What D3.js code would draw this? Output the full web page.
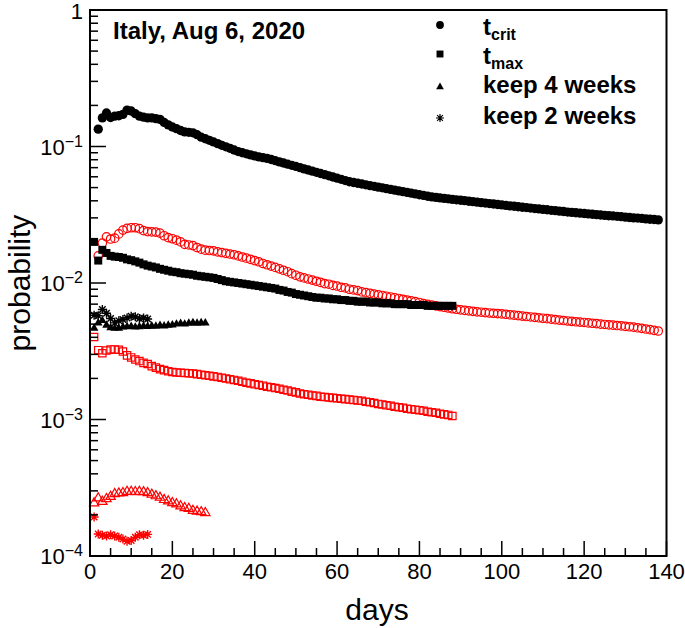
<!DOCTYPE html>
<html><head><meta charset="utf-8">
<script src="https://cdn.jsdelivr.net/npm/d3@7"></script>
<style>body{margin:0;background:#fff}svg{display:block}text{font-family:"Liberation Sans",Arial,Helvetica,sans-serif}</style>
</head><body>
<script>
// ---- data ----
const title = "Italy, Aug 6, 2020";
const xTicks = [0, 20, 40, 60, 80, 100, 120, 140];
const yTickExps = [0, -1, -2, -3, -4];

// black filled circles: t_crit, days 2..138
const tCritStart = 2;
const tCrit = [0.134,0.162,0.176,0.163,0.167,0.168,0.172,0.185,0.182,0.174,
 0.167,0.164,0.162,0.162,0.160,0.158,0.150,0.144,0.139,0.135,
 0.131,0.128,0.127,0.126,0.122,0.117,0.114,0.111,0.108,0.105,
 0.102,0.0995,0.0970,0.0943,0.0918,0.0900,0.0884,0.0868,0.0853,0.0840,
 0.0829,0.0819,0.0803,0.0787,0.0772,0.0757,0.0742,0.0728,0.0714,0.0700,
 0.0686,0.0673,0.0660,0.0647,0.0634,0.0622,0.0610,0.0598,0.0586,0.0575,
 0.0563,0.0552,0.0545,0.0538,0.0531,0.0524,0.0517,0.0511,0.0504,0.0498,
 0.0491,0.0485,0.0479,0.0473,0.0467,0.0461,0.0455,0.0449,0.0443,0.0438,
 0.0432,0.0427,0.0424,0.0420,0.0417,0.0414,0.0410,0.0407,0.0404,0.0401,
 0.0397,0.0394,0.0391,0.0388,0.0385,0.0382,0.0379,0.0376,0.0373,0.0370,
 0.0367,0.0365,0.0362,0.0359,0.0357,0.0354,0.0351,0.0349,0.0346,0.0344,
 0.0341,0.0339,0.0336,0.0334,0.0331,0.0329,0.0327,0.0325,0.0323,0.0321,
 0.0319,0.0317,0.0315,0.0313,0.0311,0.0310,0.0308,0.0306,0.0304,0.0302,
 0.0300,0.0299,0.0297,0.0295,0.0293,0.0292,0.0290];

// red open circles, days 2..138
const redCircStart = 2;
const redCirc = [0.0158,0.0196,0.0218,0.0210,0.0213,0.0229,0.0244,0.0251,0.0254,0.0254,
 0.0250,0.0242,0.0238,0.0237,0.0236,0.0232,0.0222,0.0215,0.0211,0.0206,
 0.0200,0.0192,0.0190,0.0188,0.0182,0.0177,0.0174,0.0173,0.0172,0.0169,
 0.0167,0.0165,0.0163,0.0161,0.0158,0.0155,0.0152,0.0149,0.0146,0.0143,
 0.0139,0.0136,0.0133,0.0130,0.0127,0.0124,0.0121,0.0117,0.0114,0.0111,
 0.0109,0.0107,0.0105,0.0103,0.0101,0.0099,0.0098,0.0096,0.0095,0.0093,
 0.0092,0.0090,0.0089,0.0088,0.0086,0.0085,0.0084,0.0083,0.0082,0.0081,
 0.0080,0.0079,0.0078,0.0077,0.0076,0.0075,0.0074,0.0073,0.0072,0.00707,
 0.00698,0.00690,0.00680,0.00672,0.00664,0.00656,0.00648,0.00642,0.00636,0.00630,
 0.00625,0.00620,0.00615,0.00611,0.00607,0.00603,0.00600,0.00597,0.00594,0.00590,
 0.00585,0.00581,0.00577,0.00572,0.00568,0.00564,0.00560,0.00556,0.00552,0.00548,
 0.00544,0.00539,0.00535,0.00531,0.00527,0.00524,0.00520,0.00517,0.00514,0.00510,
 0.00507,0.00504,0.00500,0.00497,0.00494,0.00491,0.00488,0.00485,0.00481,0.00478,
 0.00475,0.00470,0.00465,0.00460,0.00455,0.00450,0.00445];

// black filled squares: t_max, days 1..88
const tMaxStart = 1;
const tMax = [0.0200,0.0146,0.0175,0.0166,0.0158,0.0156,0.0155,0.0153,0.0149,0.0147,
 0.0144,0.0141,0.0137,0.0134,0.0132,0.0130,0.0127,0.0125,0.0123,0.0121,
 0.0120,0.0118,0.0117,0.0116,0.0115,0.0113,0.0112,0.0111,0.0110,0.0109,
 0.0107,0.0105,0.0103,0.0102,0.0101,0.0100,0.0099,0.0098,0.0097,0.0096,
 0.0095,0.0094,0.0093,0.0092,0.0091,0.0089,0.0088,0.0086,0.0085,0.0083,
 0.0082,0.0081,0.0080,0.0079,0.0078,0.0078,0.0077,0.0077,0.0076,0.0076,
 0.0075,0.0075,0.0074,0.0074,0.0073,0.0073,0.0073,0.0072,0.0072,0.0072,
 0.0071,0.0071,0.0071,0.0070,0.0070,0.0070,0.0070,0.0069,0.0069,0.0069,
 0.0069,0.0068,0.0068,0.0068,0.0068,0.0068,0.0068,0.0068];

// red open squares, days 1..88
const redSqStart = 1;
const redSq = [0.00402,0.00322,0.00306,0.00320,0.00326,0.00326,0.00324,0.00315,0.00295,0.00285,
 0.00275,0.00268,0.00260,0.00255,0.00246,0.00240,0.00234,0.00230,0.00226,0.00223,
 0.00221,0.00220,0.00219,0.00218,0.00217,0.00215,0.00213,0.00211,0.00209,0.00207,
 0.00205,0.00202,0.00200,0.00197,0.00195,0.00192,0.00189,0.00186,0.00184,0.00181,
 0.00179,0.00177,0.00174,0.00172,0.00170,0.00168,0.00165,0.00163,0.00160,0.00158,
 0.00155,0.00153,0.00152,0.00150,0.00149,0.00147,0.00146,0.00145,0.00144,0.00143,
 0.00142,0.00141,0.00140,0.00139,0.00138,0.00137,0.00135,0.00134,0.00132,0.00130,
 0.00129,0.00127,0.00126,0.00124,0.00123,0.00122,0.00120,0.00119,0.00118,0.00117,
 0.00116,0.00114,0.00113,0.00112,0.00110,0.00109,0.00108,0.00106];

// black filled triangles: keep 4 weeks, days 1..28
const keep4Start = 1;
const keep4 = [0.00466,0.00510,0.00530,0.00490,0.00470,0.00465,0.00465,0.00475,0.00478,0.00480,
 0.00475,0.00478,0.00482,0.00480,0.00485,0.00482,0.00488,0.00485,0.00490,0.00492,
 0.00500,0.00505,0.00500,0.00508,0.00512,0.00508,0.00512,0.00510];

// red open triangles, days 1..28
const redTriStart = 1;
const redTri = [0.000244,0.000265,0.000250,0.000262,0.000272,0.000285,0.000288,0.000290,0.000296,0.000296,
 0.000295,0.000296,0.000294,0.000290,0.000282,0.000275,0.000268,0.000258,0.000252,0.000245,
 0.000240,0.000232,0.000225,0.000222,0.000215,0.000212,0.000210,0.000207];

// black stars: keep 2 weeks, days 1..14
const keep2Start = 1;
const keep2 = [0.00580,0.00575,0.00640,0.00600,0.00550,0.00510,0.00530,0.00540,0.00555,0.00570,
 0.00565,0.00550,0.00555,0.00545];

// red stars, days 1..14
const redStarStart = 1;
const redStar = [0.000193,0.000145,0.000142,0.000140,0.000143,0.000140,0.000137,0.000133,0.000128,0.000130,
 0.000137,0.000143,0.000142,0.000144];

const legendItems = [
  {main: "t", sub: "crit", shape: "circle"},
  {main: "t", sub: "max", shape: "square"},
  {main: "keep 4 weeks", sub: null, shape: "triangle"},
  {main: "keep 2 weeks", sub: null, shape: "star"}
];

// ---- chart ----
const W = 685, H = 628;
const svg = d3.select("body").append("svg").attr("width", W).attr("height", H);
const x = d3.scaleLinear().domain([0, 140]).range([90, 666.5]);
const y = d3.scaleLog().domain([1e-4, 1]).range([556, 10]);

const starPath = r => `M0,${-r}V${r}M${-r},0H${r}M${-r*0.72},${-r*0.72}L${r*0.72},${r*0.72}M${-r*0.72},${r*0.72}L${r*0.72},${-r*0.72}`;
function shapePath(shape, filled) {
  if (shape === "circle") return d3.symbol(d3.symbolCircle, filled ? 68 : 56)();
  if (shape === "square") return d3.symbol(d3.symbolSquare, filled ? 64 : 54)();
  if (shape === "triangle") return d3.symbol(d3.symbolTriangle, filled ? 32 : 38)();
  return starPath(4.5);
}
function drawSeries(vals, start, shape, filled, color) {
  const g = svg.append("g");
  g.selectAll("path").data(vals).join("path")
    .attr("transform", (d, i) => `translate(${x(start + i)},${y(d)})`)
    .attr("d", shapePath(shape, filled))
    .attr("fill", (filled && shape !== "star") ? color : "none")
    .attr("stroke", color)
    .attr("stroke-width", shape === "star" ? 1.4 : (filled ? 0 : 1.2));
}

// red (open) series first, black on top
drawSeries(redCirc, redCircStart, "circle", false, "#ff0000");
drawSeries(redSq, redSqStart, "square", false, "#ff0000");
drawSeries(redTri, redTriStart, "triangle", false, "#ff0000");
drawSeries(redStar, redStarStart, "star", false, "#ff0000");
drawSeries(tCrit, tCritStart, "circle", true, "#000");
drawSeries(tMax, tMaxStart, "square", true, "#000");
drawSeries(keep4, keep4Start, "triangle", true, "#000");
drawSeries(keep2, keep2Start, "star", true, "#000");

// frame
const x0 = x(0), x1 = x(140), yT = y(1), yB = y(1e-4);
svg.append("rect").attr("x", x0).attr("y", yT).attr("width", x1 - x0).attr("height", yB - yT)
  .attr("fill", "none").attr("stroke", "#000").attr("stroke-width", 2);

// x ticks (inward, upward)
const xMinor = d3.range(0, 141, 5);
svg.append("g").selectAll("line").data(xMinor).join("line")
  .attr("x1", d => x(d)).attr("x2", d => x(d))
  .attr("y1", yB).attr("y2", d => yB - (d % 20 === 0 ? 15 : 8))
  .attr("stroke", "#000").attr("stroke-width", 1.5);
svg.append("g").selectAll("text").data(xTicks).join("text")
  .attr("x", d => x(d)).attr("y", 579).attr("text-anchor", "middle")
  .attr("font-size", 22).text(d => d);

// y ticks
const yMinorVals = [];
for (let e = -4; e < 0; e++) for (let m = 1; m <= 9; m++) yMinorVals.push(m * Math.pow(10, e));
yMinorVals.push(1);
svg.append("g").selectAll("line").data(yMinorVals).join("line")
  .attr("x1", x0).attr("x2", (d, i) => x0 + ((i % 9 === 0) ? 16 : 8))
  .attr("y1", d => y(d)).attr("y2", d => y(d))
  .attr("stroke", "#000").attr("stroke-width", 1.5);
const yl = svg.append("g").selectAll("text").data(yTickExps).join("text")
  .attr("x", 83).attr("y", e => y(Math.pow(10, e)) + (e === 0 ? 9 : 8))
  .attr("text-anchor", "end").attr("font-size", 22);
yl.each(function(e) {
  const t = d3.select(this);
  if (e === 0) { t.text("1"); return; }
  t.append("tspan").text("10");
  t.append("tspan").attr("dy", -8).attr("font-size", 16).text("\u2212" + (-e));
});

// axis titles
svg.append("text").attr("x", 377).attr("y", 620).attr("text-anchor", "middle")
  .attr("font-size", 30).text("days");
svg.append("text").attr("transform", `translate(30,${(yT + yB) / 2}) rotate(-90)`)
  .attr("text-anchor", "middle").attr("font-size", 30).text("probability");

// title
svg.append("text").attr("x", 113).attr("y", 39).attr("font-size", 24)
  .attr("font-weight", "bold").text(title);

// legend
const legY = [25, 54, 87, 118];
const lg = svg.append("g");
legendItems.forEach((it, i) => {
  const cy = legY[i];
  lg.append("path").attr("transform", `translate(440,${cy})`)
    .attr("d", it.shape === "star" ? starPath(4) : d3.symbol(
      it.shape === "circle" ? d3.symbolCircle : it.shape === "square" ? d3.symbolSquare : d3.symbolTriangle,
      it.shape === "triangle" ? 26 : 48)())
    .attr("fill", it.shape === "star" ? "none" : "#000")
    .attr("stroke", "#000").attr("stroke-width", it.shape === "star" ? 1.2 : 0);
  const t = lg.append("text").attr("x", 483).attr("y", it.sub ? cy + 10 : cy + 6)
    .attr("font-size", 24).attr("font-weight", "bold");
  t.append("tspan").text(it.main);
  if (it.sub) t.append("tspan").attr("dy", 5).attr("font-size", 16).text(it.sub);
});
</script>
</body></html>
